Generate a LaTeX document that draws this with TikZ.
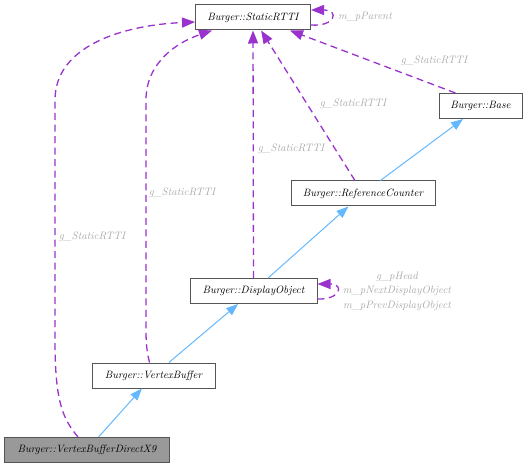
\documentclass[tikz,border=0pt]{standalone}
\usetikzlibrary{arrows.meta, positioning}
\definecolor{inhblue}{HTML}{63B8FF}
\definecolor{usepurple}{HTML}{9A32CD}
\definecolor{lblgray}{HTML}{ABABAB}
\definecolor{boxgray}{HTML}{555555}
\definecolor{curfill}{HTML}{999999}
\tikzset{
    classbox/.style={
        rectangle, draw=boxgray, line width=1bp,
        minimum height=25bp, inner sep=0pt,
        fill=white, font=\fontsize{10.7}{12}\selectfont\itshape
    },
    curbox/.style={classbox, fill=curfill},
    inherit/.style={draw=inhblue, line width=1bp, -{Triangle[length=12bp, width=9bp]}},
    usage/.style={
        draw=usepurple, line width=1.3bp, dash pattern=on 7bp off 4.5bp,
        -{Triangle[length=13bp, width=10bp]}
    },
    edgelabel/.style={
        text=lblgray, inner sep=0pt, align=center,
        font=\fontsize{10.8}{14.5}\selectfont\itshape
    }
}
\begin{document}
\begin{tikzpicture}[x=1bp, y=-1bp]
\useasboundingbox (0,0) rectangle (527,468);

% Classes
\node[classbox, minimum width=115bp] (rtti) at (253,17.5) {Burger::StaticRTTI};
\node[classbox, minimum width=83bp] (base) at (480.5,106) {Burger::Base};
\node[classbox, minimum width=144bp] (refcnt) at (363,193.5) {Burger::ReferenceCounter};
\node[classbox, minimum width=127bp] (dispobj) at (253.5,291) {Burger::DisplayObject};
\node[classbox, minimum width=123bp] (vbuf) at (153.5,375.5) {Burger::VertexBuffer};
\node[curbox, minimum width=164bp] (vbufdx) at (87,450) {Burger::VertexBufferDirectX9};

% Inheritance
\draw[inherit] (vbufdx) -- (vbuf);
\draw[inherit] (vbuf) -- (dispobj);
\draw[inherit] (dispobj) -- (refcnt);
\draw[inherit] (refcnt) -- (base);

% g_StaticRTTI usage
\draw[usage] ([xshift=-9bp]vbufdx.north) .. controls (62,418) and (55,400) .. (55,340)
    -- (55,100) .. controls (55,45) and (125,25) .. ([yshift=-4.5bp]rtti.west);
\draw[usage] ([xshift=-4bp]vbuf.north) .. controls (147,352) and (146,345) .. (146,330)
    -- (146,100) .. controls (146,62) and (178,42) .. ([xshift=-41bp]rtti.south);
\draw[usage] (dispobj) -- (rtti);
\draw[usage] (refcnt) -- (rtti);
\draw[usage] ([xshift=-25bp]base.north) -- ([xshift=37bp]rtti.south);

% Self references
\draw[usage] ([yshift=-7.5bp]rtti.east) .. controls (335,27) and (340,10) .. ([yshift=7.5bp]rtti.east);
\draw[usage] ([yshift=-8bp]dispobj.east) .. controls (340,300) and (345,284) .. ([yshift=7bp]dispobj.east);

% Labels
\node[edgelabel] (lbldx) at (92,237) {g\_StaticRTTI};
\node[edgelabel] (lblvb) at (182,193) {g\_StaticRTTI};
\node[edgelabel] (lbldo) at (291,149) {g\_StaticRTTI};
\node[edgelabel] (lblrc) at (353,104) {g\_StaticRTTI};
\node[edgelabel] (lblbase) at (434,61) {g\_StaticRTTI};
\node[edgelabel] (lblparent) at (365,17) {m\_pParent};
\node[edgelabel] (lblhead) at (397,291) {g\_pHead\\m\_pNextDisplayObject\\m\_pPrevDisplayObject};

\end{tikzpicture}
\end{document}
